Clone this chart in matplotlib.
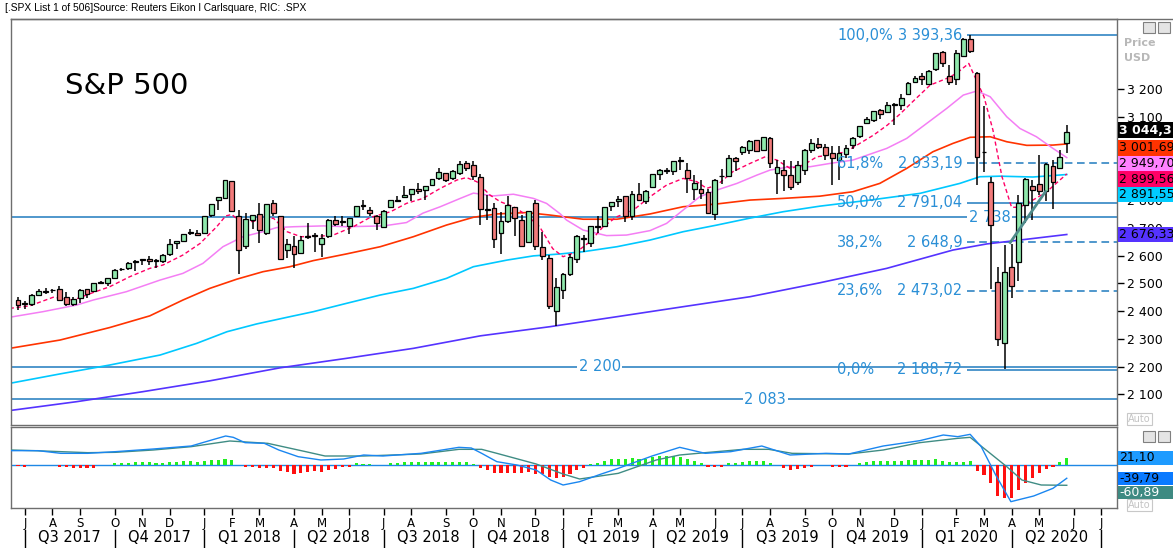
import numpy as np
import pandas as pd
import matplotlib
matplotlib.use("Agg")
import matplotlib.pyplot as plt
from matplotlib import transforms
from matplotlib.patches import Rectangle

W, H = 1173, 548

# weekly S&P 500 candles, week ending 2017-06-30 .. 2020-05-29
opens = [2440, 2431, 2424, 2459, 2472, 2475, 2478, 2450, 2426, 2447, 2479, 2471, 2502, 2503, 2521, 2550, 2555, 2578, 2583, 2588,
         2583, 2582, 2605, 2645, 2652, 2685, 2683, 2683, 2745, 2800, 2809, 2867, 2741, 2636, 2727, 2750, 2681, 2790, 2741, 2620,
         2634, 2611, 2670, 2675, 2643, 2669, 2728, 2722, 2705, 2742, 2781, 2763, 2742, 2704, 2775, 2798, 2811, 2822, 2840, 2835,
         2853, 2881, 2897, 2881, 2896, 2933, 2926, 2882, 2765, 2773, 2683, 2726, 2774, 2730, 2649, 2790, 2630, 2590, 2401, 2476,
         2532, 2586, 2658, 2644, 2703, 2705, 2780, 2798, 2814, 2741, 2822, 2797, 2848, 2893, 2910, 2904, 2940, 2909, 2841, 2841,
         2830, 2751, 2886, 2886, 2952, 2972, 2980, 3017, 2981, 3025, 2898, 2908, 2891, 2866, 2910, 2980, 3002, 2990, 2968, 2944,
         2966, 2997, 3030, 3079, 3090, 3123, 3117, 3144, 3141, 3183, 3225, 3248, 3217, 3273, 3334, 3248, 3236, 3319, 3379, 3257,
         2974, 2864, 2505, 2285, 2558, 2577, 2782, 2850, 2857, 2831, 2921, 2915, 3005]
highs = [2450, 2436, 2463, 2478, 2484, 2480, 2491, 2469, 2452, 2480, 2480, 2500, 2509, 2520, 2552, 2557, 2576, 2583, 2588, 2598,
         2589, 2604, 2658, 2652, 2679, 2695, 2692, 2743, 2787, 2812, 2873, 2870, 2763, 2755, 2747, 2789, 2787, 2802, 2741, 2660,
         2672, 2672, 2718, 2683, 2677, 2732, 2743, 2742, 2736, 2779, 2801, 2775, 2746, 2763, 2802, 2816, 2849, 2841, 2863, 2852,
         2877, 2916, 2898, 2908, 2941, 2940, 2940, 2894, 2817, 2790, 2756, 2815, 2775, 2746, 2760, 2800, 2685, 2601, 2520, 2539,
         2604, 2675, 2675, 2708, 2744, 2776, 2794, 2814, 2816, 2831, 2861, 2837, 2894, 2911, 2916, 2940, 2954, 2932, 2892, 2871,
         2841, 2876, 2911, 2964, 2956, 2996, 3018, 3018, 3028, 3027, 2944, 2943, 2939, 2941, 2985, 3021, 3022, 3002, 2993, 2993,
         3000, 3028, 3067, 3098, 3121, 3127, 3154, 3150, 3182, 3226, 3248, 3258, 3268, 3330, 3338, 3287, 3342, 3385, 3393, 3260,
         3137, 2883, 2560, 2637, 2641, 2819, 2879, 2872, 2964, 2933, 2944, 2980, 3069]
lows = [2405, 2407, 2417, 2457, 2460, 2466, 2437, 2418, 2417, 2428, 2447, 2470, 2497, 2491, 2521, 2545, 2547, 2545, 2566, 2566,
        2557, 2575, 2600, 2624, 2650, 2673, 2673, 2683, 2738, 2765, 2803, 2759, 2533, 2622, 2695, 2647, 2675, 2742, 2586, 2593,
        2554, 2605, 2660, 2612, 2595, 2665, 2705, 2707, 2676, 2741, 2764, 2742, 2692, 2699, 2770, 2795, 2806, 2795, 2821, 2802,
        2852, 2872, 2864, 2874, 2889, 2903, 2874, 2710, 2727, 2628, 2604, 2717, 2671, 2632, 2649, 2621, 2583, 2409, 2347, 2443,
        2525, 2572, 2613, 2631, 2681, 2705, 2761, 2775, 2722, 2729, 2800, 2786, 2848, 2874, 2893, 2891, 2910, 2825, 2801, 2805,
        2750, 2728, 2858, 2884, 2904, 2964, 2967, 2973, 2975, 2914, 2822, 2834, 2837, 2856, 2891, 2970, 2985, 2946, 2856, 2874,
        2953, 2983, 3023, 3074, 3080, 3091, 3115, 3070, 3123, 3183, 3223, 3213, 3215, 3263, 3280, 3214, 3214, 3316, 3328, 2856,
        2901, 2479, 2275, 2192, 2447, 2508, 2717, 2727, 2817, 2798, 2767, 2914, 2970]
closes = [2423, 2425, 2459, 2473, 2472, 2477, 2441, 2426, 2443, 2477, 2461, 2500, 2502, 2519, 2549, 2553, 2575, 2581, 2588, 2582,
          2579, 2602, 2642, 2652, 2676, 2683, 2674, 2743, 2786, 2810, 2873, 2762, 2620, 2732, 2747, 2691, 2787, 2752, 2588, 2641,
          2604, 2656, 2670, 2670, 2663, 2728, 2713, 2721, 2735, 2779, 2779, 2755, 2718, 2760, 2801, 2802, 2819, 2840, 2833, 2850,
          2875, 2902, 2872, 2905, 2930, 2914, 2886, 2767, 2768, 2659, 2723, 2781, 2736, 2633, 2760, 2633, 2600, 2417, 2486, 2532,
          2596, 2671, 2665, 2707, 2708, 2776, 2793, 2804, 2743, 2822, 2801, 2834, 2893, 2907, 2905, 2940, 2946, 2881, 2860, 2826,
          2752, 2873, 2887, 2950, 2942, 2990, 3014, 2977, 3026, 2932, 2919, 2889, 2847, 2926, 2979, 3007, 2992, 2962, 2952, 2970,
          2986, 3023, 3067, 3093, 3120, 3110, 3141, 3146, 3169, 3221, 3240, 3235, 3265, 3330, 3295, 3226, 3328, 3380, 3338, 2954,
          2972, 2711, 2300, 2541, 2489, 2790, 2875, 2837, 2831, 2930, 2864, 2955, 3044.31]

# moving averages (week index, value)
ma_fast_x = [-1.2, 1.7, 5.1, 8, 10.9, 13.3, 16.2, 19.1, 21, 23.9, 26.4, 28.8, 30.1, 31, 32.2, 33.6, 36, 37, 39, 41, 43.8,
             45.7, 48.6, 51, 54, 56.3, 58.7, 61.2, 63.6, 65, 66.5, 68.4, 69.9, 71.8, 73.7, 75.6, 77.5, 79, 81, 82.9, 84.8,
             86.8, 89.2, 91.6, 94, 96.4, 98.4, 99.8, 101.3, 103.6, 106.1, 108.3, 110, 111.9, 113.8, 115.8, 117.7, 120, 122,
             124, 126, 127.8, 129.7, 132.2, 134.6, 136, 137.8, 140, 141.3, 142.6, 144, 145.2, 147.1, 149.1, 151, 152]
ma_fast_y = [2410, 2419, 2450, 2440, 2467, 2488, 2524, 2554, 2566, 2602, 2644, 2704, 2743, 2748, 2722, 2722, 2728, 2735, 2686,
             2668, 2670, 2674, 2704, 2737, 2758, 2788, 2806, 2842, 2872, 2881, 2866, 2818, 2794, 2776, 2746, 2704, 2625, 2596,
             2614, 2650, 2704, 2740, 2764, 2812, 2854, 2878, 2866, 2842, 2854, 2902, 2932, 2956, 2944, 2914, 2926, 2956, 2962,
             2974, 3004, 3034, 3070, 3109, 3155, 3214, 3238, 3256, 3292, 3172, 3052, 2885, 2774, 2774, 2800, 2830, 2872, 2894]
ma_mid_x = [-1.2, 3.6, 8.5, 10.9, 15.7, 20.6, 23.9, 26.8, 29.7, 32.6, 35.5, 37.5, 40, 44.3, 47.6, 53, 56.3, 58.7, 61.2, 64.1,
            66, 68.9, 71.8, 74.7, 76.6, 78.6, 79.5, 81.9, 85.3, 88.2, 91.6, 94, 96.4, 98.8, 101.3, 104.2, 107.1, 109, 111.9,
            114.8, 117.7, 121, 125.9, 128.8, 131.7, 134.6, 137, 139, 140.9, 143.3, 145.2, 147.6, 150, 152]
ma_mid_y = [2378, 2398, 2422, 2440, 2470, 2512, 2536, 2572, 2632, 2668, 2686, 2701, 2704, 2707, 2704, 2707, 2719, 2753, 2776,
            2806, 2825, 2815, 2821, 2806, 2788, 2750, 2728, 2692, 2672, 2674, 2690, 2716, 2764, 2812, 2836, 2860, 2890, 2908,
            2920, 2920, 2932, 2944, 2986, 3022, 3076, 3130, 3178, 3193, 3172, 3100, 3058, 3028, 2986, 2953]
ma_slow_x = [-1.2, 6.1, 13.3, 19.1, 23.9, 27.8, 31.7, 35.5, 39.4, 42.8, 47.6, 52.5, 57.3, 62.1, 66, 69.4, 73.7, 77.1, 81.9,
             86.8, 91.6, 96.4, 101.3, 106.1, 110.9, 116.2, 121, 124.9, 128.8, 132.6, 135.5, 138, 140.9, 143.3, 146.2, 150, 152]
ma_slow_y = [2266, 2296, 2341, 2383, 2440, 2482, 2515, 2542, 2560, 2582, 2606, 2632, 2668, 2710, 2738, 2750, 2755, 2746, 2731,
             2731, 2750, 2776, 2786, 2800, 2806, 2814, 2830, 2860, 2914, 2974, 3004, 3026, 3028, 3010, 2997, 2998, 3002]
ma_xslow_x = [-1.2, 6.1, 13.3, 20.6, 25.9, 30.3, 34.6, 39.4, 42.8, 47.6, 52.5, 57.3, 62.1, 66, 70.9, 74.7, 78.6, 81.9, 86.8,
              91.6, 96.4, 101.3, 106.1, 110.9, 116.2, 123.5, 130.7, 136.5, 139.4, 142.3, 147.1, 152]
ma_xslow_y = [2140, 2174, 2206, 2242, 2284, 2326, 2354, 2380, 2398, 2428, 2458, 2482, 2518, 2560, 2584, 2599, 2606, 2614, 2632,
              2656, 2686, 2710, 2735, 2758, 2778, 2800, 2824, 2860, 2884, 2886, 2883, 2892]
ma_long_x = [-1.2, 8.5, 18.1, 27.8, 38, 47.6, 57.3, 67, 77.1, 86.8, 96.4, 106.1, 116.2, 125.9, 135.5, 140.4, 145.2, 152]
ma_long_y = [2042, 2074, 2110, 2149, 2196, 2230, 2266, 2311, 2344, 2380, 2416, 2452, 2502, 2554, 2620, 2642, 2656, 2676]

last_values = [3044.31, 3001.69, 2949.70, 2899.56, 2891.55, 2676.33]

# Fibonacci retracement and support levels
fib_pct = ["100,0%", "61,8%", "50,0%", "38,2%", "23,6%", "0,0%"]
fib_val = [3393.36, 2933.19, 2791.04, 2648.9, 2473.02, 2188.72]
fib_txt = ["3 393,36", "2 933,19", "2 791,04", "2 648,9", "2 473,02", "2 188,72"]
fib_dashed = [False, True, False, True, True, False]
levels = [2738, 2200, 2083]
level_txt = ["2 738", "2 200", "2 083"]
level_lab_x = [140.8, 84.3, 108.3]
trend_x = [143.8, 148.9]
trend_y = [2647, 2830]

# MACD panel
hist = [-3, -7, 0, 0, 0, 0, -7, -7, -10, -8, -8, -8, 0, 0,
        5, 5, 7, 8, 8, 9, 7, 7, 9, 9, 11, 11, 10, 12, 14, 16, 19, 15, 0,
        -5, -5, -10, -10, -10, -17, -20, -27, -23, -22, -18, -20, -15, -11, -7, -6,
        5, 4, 4, 0, 0,
        5, 7, 8, 10, 9, 9, 10, 10, 10, 10, 10, 9, 4,
        -10, -15, -23, -25, -25, -23, -25, -22, -27, -28, -37, -40, -35, -27, -15, -8,
        3, 7, 12, 17, 17, 17, 20, 17, 17, 25, 27, 27, 27, 25, 17, 12, 7,
        -5, -5, -5, 5, 5, 10, 12, 12, 12, 7, 0,
        -8, -15, -12, -10, -5, 0, 0, -5, -5, -5, 0,
        5, 10, 13, 13, 13, 13, 13, 15, 15, 15, 15, 17, 13, 10, 10, 10, 12,
        -17, -30, -55, -93, -100, -98, -75, -55, -40, -25, -12, -5, 10, 21.10]
macd_x = [-1.0, 2.9, 6.2, 10.1, 14.1, 19.6, 25.1, 28.4, 30.1, 31.2, 32.9, 35.7, 37.8, 40.6, 43.9, 47.2, 50.1, 52.9, 58.4,
          63.9, 65.7, 67.2, 69.4, 72.3, 75.1, 77.2, 79.0, 81.4, 84.4, 87, 91.9, 95.9, 99.6, 103.3, 107.8, 111.9, 117.1,
          120.4, 125.4, 130.7, 134.1, 136.2, 138, 139.6, 141.7, 143.9, 147.2, 150, 152]
macd_y = [43, 43, 35, 35, 40, 48, 57, 77, 87, 83, 67, 65, 45, 25, 15, 18, 30, 27, 35, 53, 51, 35, 10, 0, -15, -45, -60, -50,
          -28, -10, 27, 53, 35, 40, 57, 30, 35, 33, 57, 73, 90, 85, 92, 55, -30, -110, -93, -70, -39.79]
signal_x = [-1.0, 2.4, 10.1, 14.1, 19.6, 25.1, 30.7, 36.2, 41.7, 44.5, 50.1, 58.4, 63.9, 67.2, 69.4, 75.1, 79, 81.4, 87,
            92.5, 95.9, 99.6, 105.1, 108.8, 112.2, 120.4, 125.4, 130.7, 136.2, 138, 140.6, 143.3, 145.5, 148.3, 152]
signal_y = [45, 43, 37, 38, 45, 55, 72, 65, 40, 27, 27, 33, 47, 47, 35, 3, -27, -42, -25, 15, 30, 37, 47, 47, 35, 33, 45,
            67, 80, 83, 40, -5, -45, -60, -60.89]

month_labels = ["J", "A", "S", "O", "N", "D", "J", "F", "M", "A", "M", "J", "J", "A", "S", "O", "N", "D",
                "J", "F", "M", "A", "M", "J", "J", "A", "S", "O", "N", "D", "J", "F", "M", "A", "M", "J", "J"]
quarter_labels = ["Q3 2017", "Q4 2017", "Q1 2018", "Q2 2018", "Q3 2018", "Q4 2018",
                  "Q1 2019", "Q2 2019", "Q3 2019", "Q4 2019", "Q1 2020", "Q2 2020"]

LVL = "#1F7BBE"
FIBTXT = "#2A8FD6"
FRAME = "#6E6E6E"


def fx(px):
    return px / W


def fy(py):
    return 1 - py / H


def fmt(v):
    return f"{v:,.2f}".replace(",", " ").replace(".", ",")


fig = plt.figure(figsize=(W / 100, H / 100), dpi=100)
ax = fig.add_axes([fx(11), fy(425), fx(1117) - fx(11), fy(19) - fy(425)])
axm = fig.add_axes([fx(11), fy(508), fx(1117) - fx(11), fy(427) - fy(508)])

XMIN, XMAX = -1.014, 159.28
for a in (ax, axm):
    a.set_xlim(XMIN, XMAX)
    for s in a.spines.values():
        s.set_color(FRAME)
        s.set_linewidth(1)

# --- price panel ---
ax.set_ylim(1990, 3452)
idx = np.arange(len(closes))
o = np.array(opens, float)
c = np.array(closes, float)
hi = np.array(highs, float)
lo = np.array(lows, float)
up = c >= o
body_h = np.maximum(np.abs(c - o), 3.0)
body_b = (o + c) / 2 - body_h / 2
ax.vlines(idx, lo, hi, color="black", lw=1.1, zorder=3)
ax.bar(idx, body_h, width=0.7, bottom=body_b, color=np.where(up, "#8FE8AC", "#F27B7B"),
       edgecolor="black", linewidth=0.9, zorder=4)

ax.plot(ma_long_x, ma_long_y, color="#5533FF", lw=1.2, zorder=2)
ax.plot(ma_xslow_x, ma_xslow_y, color="#00C8FF", lw=1.2, zorder=2)
ax.plot(ma_slow_x, ma_slow_y, color="#FF3300", lw=1.2, zorder=2)
ax.plot(ma_mid_x, ma_mid_y, color="#F47EF4", lw=1.1, zorder=2)
ax.plot(ma_fast_x, ma_fast_y, color="#FF0066", lw=1.0, ls=(0, (3, 2)), zorder=2)

for v, t, lx in zip(levels, level_txt, level_lab_x):
    ax.axhline(v, color=LVL, lw=1.1, zorder=1)
    ax.text(lx, v, t, color=FIBTXT, fontsize=10.5, ha="center", va="center", zorder=1.5,
            bbox=dict(fc="white", ec="none", pad=1.2))

for p, v, t, d in zip(fib_pct, fib_val, fib_txt, fib_dashed):
    ax.hlines(v, 137.5, XMAX, color=LVL, lw=1.1, linestyles=(0, (5, 3)) if d else "solid", zorder=1)
    ax.text(118.7, v, p, color=FIBTXT, fontsize=10.5, ha="left", va="center", zorder=6)
    ax.text(136.9, v, t, color=FIBTXT, fontsize=10.5, ha="right", va="center", zorder=6)

ax.plot(trend_x, trend_y, color="#4E8A8A", lw=2, zorder=5)

ax.set_xticks([])
ax.yaxis.tick_right()
yt = list(range(2100, 3201, 100))
ax.set_yticks(yt)
# 2 900 and 3 000 sit fully behind the value boxes
ax.set_yticklabels(["" if v in (2900, 3000) else f"{v:,}".replace(",", " ") for v in yt])
ax.tick_params(axis="y", direction="out", length=5, width=1, labelsize=9, pad=2, colors="black")

# --- MACD panel ---
axm.set_ylim(-129, 114)
axm.set_yticks([])
axm.axhline(0, color="#1E88E5", lw=1, zorder=1)
hv = np.array(hist, float)
mask = hv != 0
axm.bar(idx[mask], hv[mask], width=0.45, color=np.where(hv[mask] > 0, "#22EE22", "#FF1010"), zorder=2)
axm.plot(signal_x, signal_y, color="#3F8C84", lw=1.0, zorder=3)
axm.plot(macd_x, macd_y, color="#1A86F0", lw=1.0, zorder=3)

fridays = pd.date_range("2017-06-30", periods=165, freq="W-FRI")
months = pd.date_range("2017-07-01", periods=len(month_labels), freq="MS")
month_pos = fridays.searchsorted(months)
axm.set_xticks(month_pos)
axm.set_xticklabels(month_labels)
axm.tick_params(axis="x", direction="out", length=5, width=1, labelsize=8.5, pad=1.5, colors="black")

qb = month_pos[0::3]
tr = transforms.blended_transform_factory(axm.transData, axm.transAxes)
for q in qb:
    axm.plot([q, q], [-0.27, -0.5], color="black", lw=1, transform=tr, clip_on=False)
for k, lab in enumerate(quarter_labels):
    axm.text((qb[k] + qb[k + 1]) / 2, -0.37, lab, transform=tr, ha="center", va="center", fontsize=10.5)

# --- right side value boxes ---
def stack_boxes(axis, vals, step=15.6):
    out, prev = [], None
    for v in vals:
        py = H - axis.transData.transform((0, v))[1]
        if prev is not None:
            py = max(py, prev + step)
        out.append(py)
        prev = py
    return out


def value_box(yc, text, fc, tc, weight="normal", hgt=15.6):
    fig.patches.append(Rectangle((fx(1118), fy(yc + hgt / 2)), fx(1173) - fx(1118), hgt / H,
                                 transform=fig.transFigure, fc=fc, ec="none", zorder=5))
    fig.text(fx(1119), fy(yc), text, color=tc, fontsize=9, fontweight=weight, va="center", ha="left", zorder=6)


box_fc = ["black", "#FF3300", "#FF80FF", "#FF0066", "#00CCFF", "#5533FF"]
box_tc = ["white", "black", "black", "black", "black", "black"]
box_w = ["bold", "normal", "normal", "normal", "normal", "normal"]
pys = stack_boxes(ax, last_values)
pys[0] -= 2
for py, v, f, t, wt in zip(pys, last_values, box_fc, box_tc, box_w):
    value_box(py, fmt(v), f, t, wt)

macd_last = [hist[-1], macd_y[-1], signal_y[-1]]
mfc = ["#1E9BFF", "#0A7AFF", "#3E8A82"]
mtc = ["black", "black", "white"]
mpys = stack_boxes(axm, macd_last, step=14)
for py, v, f, t in zip(mpys, macd_last, mfc, mtc):
    value_box(py, fmt(v), f, t, hgt=13.5)

# --- decorations ---
fig.add_artist(plt.Line2D([fx(11), fx(1173)], [fy(19), fy(19)], color=FRAME, lw=1))
fig.text(fx(1124), fy(43), "Price", color="#B8B8B8", fontsize=8, fontweight="bold", va="center")
fig.text(fx(1124), fy(58), "USD", color="#B8B8B8", fontsize=8, fontweight="bold", va="center")
for ytop in (22, 431):
    for xl in (1143, 1158):
        fig.patches.append(Rectangle((fx(xl), fy(ytop + 11)), 12 / W, 11 / H, transform=fig.transFigure,
                                     fc="#E4E4E4", ec="#808080", lw=0.8, zorder=5))
for ya in (419, 505):
    fig.text(fx(1128), fy(ya), "Auto", color="#C4C4C4", fontsize=7, va="center", zorder=6,
             bbox=dict(fc="white", ec="#C8C8C8", pad=0.6, lw=0.8))

fig.text(fx(5), fy(8), "[.SPX List 1 of 506]Source: Reuters Eikon l Carlsquare, RIC: .SPX",
         fontsize=7.4, family="Liberation Sans", va="center")
fig.text(fx(65), fy(86), "S&P 500", fontsize=21, va="center")

fig.savefig("out.png", dpi=100)
